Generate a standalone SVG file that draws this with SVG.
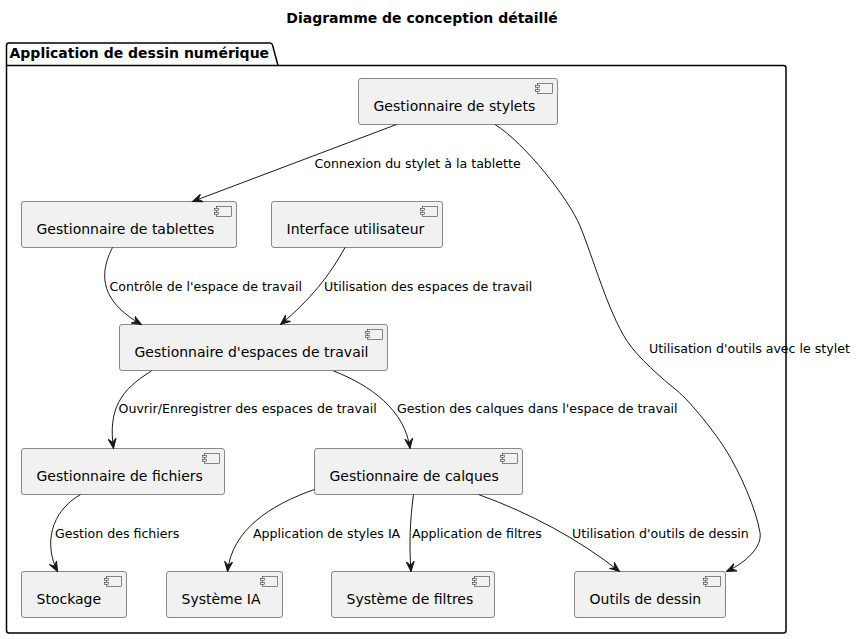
<svg xmlns="http://www.w3.org/2000/svg" width="856" height="639" viewBox="0 0 856 639">
<style>
.box{fill:#F1F1F1;stroke:#181818;stroke-width:0.5}
.ico{fill:#F1F1F1;stroke:#181818;stroke-width:0.5}
.name{font-family:"DejaVu Sans",sans-serif;font-size:14px;fill:#000}
.lbl{font-family:"DejaVu Sans",sans-serif;font-size:12.6px;fill:#000}
.edge{fill:none;stroke:#181818;stroke-width:1;marker-end:url(#ah)}
.bold{font-family:"DejaVu Sans",sans-serif;font-size:14px;font-weight:bold;fill:#000}
</style>
<defs>
<marker id="ah" markerUnits="userSpaceOnUse" markerWidth="11" markerHeight="9" refX="10" refY="4.5" orient="auto" viewBox="0 0 11 9">
<path d="M0,0.5 L10,4.5 L0,8.5 L4,4.5 Z" fill="#181818" stroke="#181818" stroke-width="1"/>
</marker>
<g id="cicon">
<rect x="-20" y="5" width="15" height="10" class="ico"/>
<rect x="-22" y="7" width="4" height="2" class="ico"/>
<rect x="-22" y="11" width="4" height="2" class="ico"/>
</g>
</defs>
<rect width="856" height="639" fill="#FFFFFF"/>
<text class="bold" x="422" y="22.7" text-anchor="middle">Diagramme de conception détaillé</text>

<g id="package">
<path d="M9,43 L270,43 A2.5,2.5 0 0 1 272.5,45 L278,65.5 L783.5,65.5 A2.5,2.5 0 0 1 786,68 L786,630.5 A2.5,2.5 0 0 1 783.5,633 L9,633 A2.5,2.5 0 0 1 6.5,630.5 L6.5,45.5 A2.5,2.5 0 0 1 9,43 Z" fill="none" stroke="#000" stroke-width="1.5"/>
<line x1="6.5" y1="65.5" x2="278" y2="65.5" stroke="#000" stroke-width="1.5"/>
<text class="bold" x="9.5" y="57.5">Application de dessin numérique</text>
</g>

<g id="stylets">
<rect class="box" x="358.5" y="78.5" width="199" height="46" rx="2.5"/>
<use href="#cicon" x="557.5" y="78.5"/>
<text class="name" x="373.5" y="111.3">Gestionnaire de stylets</text>
</g>
<g id="tablettes">
<rect class="box" x="21.5" y="201.5" width="215" height="46" rx="2.5"/>
<use href="#cicon" x="236.5" y="201.5"/>
<text class="name" x="36.5" y="234.3">Gestionnaire de tablettes</text>
</g>
<g id="interface">
<rect class="box" x="271.5" y="201.5" width="171" height="46" rx="2.5"/>
<use href="#cicon" x="442.5" y="201.5"/>
<text class="name" x="286.5" y="234.3">Interface utilisateur</text>
</g>
<g id="espaces">
<rect class="box" x="119.5" y="324.5" width="268" height="46" rx="2.5"/>
<use href="#cicon" x="387.5" y="324.5"/>
<text class="name" x="134.5" y="357.3">Gestionnaire d'espaces de travail</text>
</g>
<g id="fichiers">
<rect class="box" x="21.5" y="448.5" width="203" height="46" rx="2.5"/>
<use href="#cicon" x="224.5" y="448.5"/>
<text class="name" x="36.5" y="481.1">Gestionnaire de fichiers</text>
</g>
<g id="calques">
<rect class="box" x="314.5" y="448.5" width="208" height="46" rx="2.5"/>
<use href="#cicon" x="522.5" y="448.5"/>
<text class="name" x="329.5" y="481.1">Gestionnaire de calques</text>
</g>
<g id="stockage">
<rect class="box" x="21.5" y="571.5" width="105" height="46" rx="2.5"/>
<use href="#cicon" x="126.5" y="571.5"/>
<text class="name" x="36.5" y="604.3">Stockage</text>
</g>
<g id="ia">
<rect class="box" x="166.5" y="571.5" width="116" height="46" rx="2.5"/>
<use href="#cicon" x="282.5" y="571.5"/>
<text class="name" x="181.5" y="604.3">Système IA</text>
</g>
<g id="filtres">
<rect class="box" x="331.5" y="571.5" width="163" height="46" rx="2.5"/>
<use href="#cicon" x="494.5" y="571.5"/>
<text class="name" x="346.5" y="604.3">Système de filtres</text>
</g>
<g id="outils">
<rect class="box" x="574.5" y="571.5" width="151" height="46" rx="2.5"/>
<use href="#cicon" x="725.5" y="571.5"/>
<text class="name" x="589.5" y="604.3">Outils de dessin</text>
</g>

<g id="connectors">
<path class="edge" d="M396.5,124.5 L192.5,201.5"/>
<path class="edge" d="M495,124.5 C525,143.5 568.5,198.3 580,226 C593.3,258.2 607.8,311.1 626.7,340.5 C637.5,357.3 662.7,379.2 676.7,390.4 C690.7,401.6 716.3,434.3 726.7,451.3 C739.7,472.5 755.8,507.8 760,532.5 C762.5,547.4 745,563 726.5,571.5"/>
<path class="edge" d="M112.5,247.5 C100,272 98,300 141.5,324.5"/>
<path class="edge" d="M345,247.5 C330,275 310,300 280.5,324.5"/>
<path class="edge" d="M151.5,371 C120,390 108,410 113.5,448.5"/>
<path class="edge" d="M333.5,371 C370,385 405,410 410,448.5"/>
<path class="edge" d="M80.5,494.5 C50,512 44,545 57.5,571.5"/>
<path class="edge" d="M314.5,489.5 C270,505 232,530 227.5,571.5"/>
<path class="edge" d="M413.5,494.5 C410,520 409,545 411,571.5"/>
<path class="edge" d="M478.5,494.5 C530,513 580,540 619.5,571.5"/>
<text class="lbl" x="314.5" y="167.7">Connexion du stylet à la tablette</text>
<text class="lbl" x="109.5" y="290.7">Contrôle de l'espace de travail</text>
<text class="lbl" x="324" y="290.7">Utilisation des espaces de travail</text>
<text class="lbl" x="649" y="352.5">Utilisation d'outils avec le stylet</text>
<text class="lbl" x="118.5" y="413.3">Ouvrir/Enregistrer des espaces de travail</text>
<text class="lbl" x="397" y="413.3">Gestion des calques dans l'espace de travail</text>
<text class="lbl" x="55" y="537.7">Gestion des fichiers</text>
<text class="lbl" x="253" y="537.7">Application de styles IA</text>
<text class="lbl" x="412" y="537.7">Application de filtres</text>
<text class="lbl" x="572" y="537.7">Utilisation d'outils de dessin</text>
</g>
</svg>
